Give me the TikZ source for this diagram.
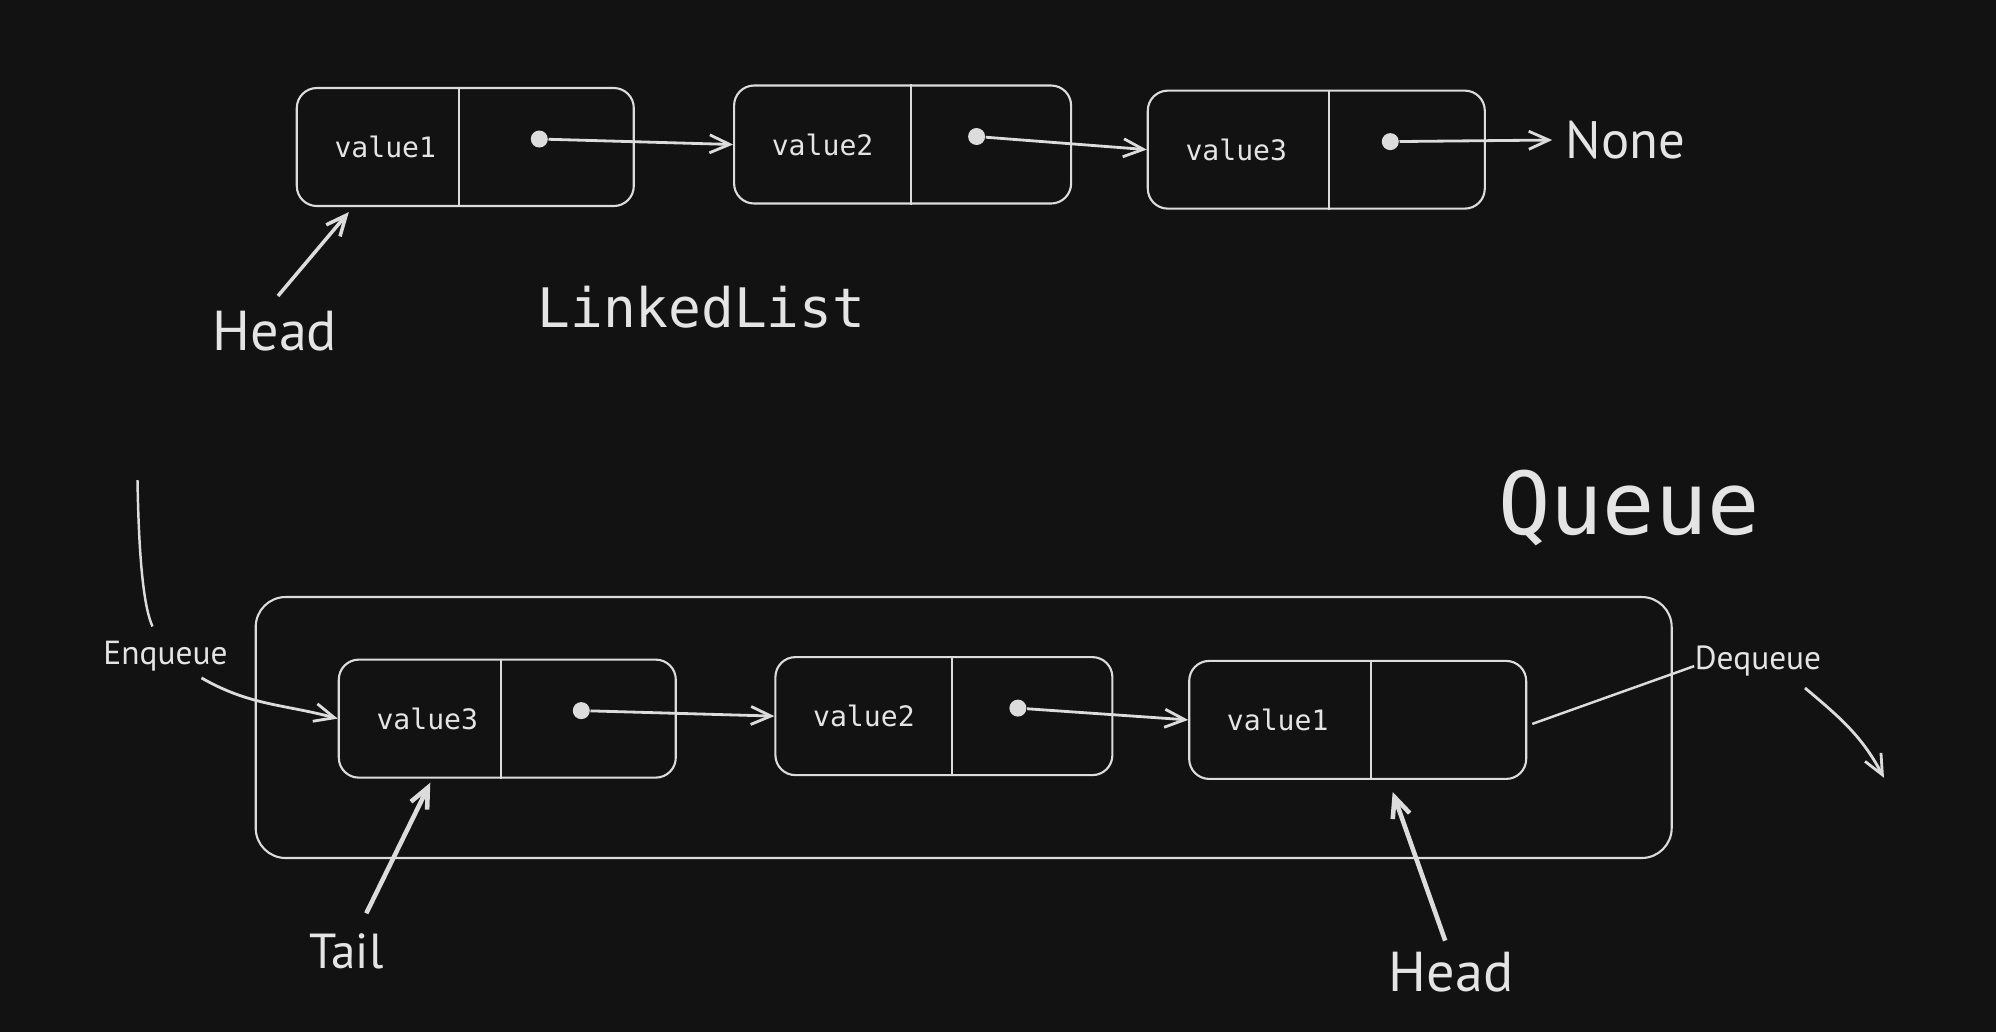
\documentclass[tikz,border=0pt]{standalone}
\usepackage{fontspec}
\setmainfont{PT Sans}
\setmonofont{DejaVu Sans Mono}
\usepackage{xcolor}
\usepackage{tikz}
\usetikzlibrary{arrows.meta, positioning, calc}
\definecolor{fond}{HTML}{121212}
\definecolor{craie}{HTML}{DCDCDC}
\definecolor{texte}{HTML}{E4E4E4}
\tikzset{
  cellule/.style={rectangle, rounded corners=2mm, draw=craie, line width=0.6pt,
    minimum width=33.7mm, minimum height=11.8mm, inner sep=0pt},
  cadre/.style={rectangle, rounded corners=3mm, draw=craie, line width=0.6pt,
    minimum width=141.6mm, minimum height=26.1mm, inner sep=0pt},
  separation/.style={draw=craie, line width=0.6pt},
  valeur/.style={font=\ttfamily\fontsize{8}{10}\selectfont, text=texte, inner sep=0pt},
  pointeur/.style={circle, fill=craie, inner sep=0pt, minimum size=1.7mm},
  fleche/.style={-{Straight Barb[length=2mm, width=1.8mm]}, line width=0.8pt, color=craie},
  flechegrasse/.style={fleche, line width=1.3pt},
  lien/.style={line width=0.7pt, color=craie},
  titre/.style={font=\ttfamily\fontsize{15.5}{18}\selectfont, text=texte, inner sep=0pt},
  etiquette/.style={font=\fontsize{16}{19}\selectfont, text=texte, inner sep=0pt},
  mention/.style={font=\fontsize{9.5}{11}\selectfont, text=texte, inner sep=0pt}
}

\begin{document}
\begin{tikzpicture}
    % Fond
    \fill[fond] (0,0) rectangle (19.96,-10.32);

    % Liste chainee
    \foreach \nom/\x/\y/\val/\sep in {n1/4.653/-1.470/value1/-0.06, n2/9.026/-1.445/value2/0.08, n3/13.163/-1.496/value3/0.13} {
      \node[cellule] (\nom) at (\x,\y) {};
      \draw[separation] ([xshift=\sep cm]\nom.north) -- ([xshift=\sep cm]\nom.south);
      \node[valeur] (\nom-v) at ([xshift=-8mm]\nom.center) {\val};
      \node[pointeur] (\nom-p) at ([xshift=7.4mm, yshift=0.8mm]\nom.center) {};
    }
    \node[etiquette, font=\fontsize{15}{18}\selectfont, anchor=base] (none) at (16.256,-1.583) {None};

    \draw[fleche] (n1-p) -- (n2.west);
    \draw[fleche] (n2-p) -- (n3.west);
    \draw[fleche, shorten >=1.3mm] (n3-p) -- (none.west);

    \node[etiquette, anchor=base] (teteA) at (2.750,-3.500) {Head};
    \draw[flechegrasse, line width=1pt] ([xshift=0.03cm, yshift=0.14cm]teteA.north) -- ([xshift=-1.165cm, yshift=-0.05cm]n1.south);
    \node[titre, anchor=base] (liste) at (7.014,-3.272) {LinkedList};

    % File
    \node[titre, font=\ttfamily\fontsize{24.7}{28}\selectfont, anchor=base] (file) at (16.29,-5.347) {Queue};
    \node[cadre] (boite) at (9.637,-7.275) {};

    \foreach \nom/\x/\y/\val/\sep in {q1/5.073/-7.186/value3/-0.06, q2/9.439/-7.161/value2/0.08, q3/13.577/-7.199/value1/0.13} {
      \node[cellule] (\nom) at (\x,\y) {};
      \draw[separation] ([xshift=\sep cm]\nom.north) -- ([xshift=\sep cm]\nom.south);
      \node[valeur] (\nom-v) at ([xshift=-8mm]\nom.center) {\val};
    }
    \foreach \nom in {q1, q2}
      \node[pointeur] (\nom-p) at ([xshift=7.4mm, yshift=0.8mm]\nom.center) {};

    \draw[fleche] (q1-p) -- (q2.west);
    \draw[fleche] (q2-p) -- (q3.west);

    % Entree et sortie
    \node[mention, anchor=base] (enfiler) at (1.655,-6.645) {Enqueue};
    \coordinate (enf-haut) at (1.375,-4.80);
    \draw[lien] (enf-haut) .. controls (1.39,-5.7) and (1.45,-6.1) .. ([xshift=-0.13cm, yshift=0.14cm]enfiler.north);
    \draw[fleche] ([xshift=0.36cm, yshift=-0.06cm]enfiler.south) to[out=-30, in=165] (q1.west);

    \node[mention, anchor=base] (defiler) at (17.58,-6.696) {Dequeue};
    \draw[lien] ([xshift=0.05cm, yshift=-0.04cm]q3.east) -- ([yshift=-0.05cm]defiler.west);
    \coordinate (sortie) at (18.84,-7.778);
    \draw[fleche] ([xshift=0.47cm, yshift=-0.11cm]defiler.south) to[out=-40, in=118] (sortie);

    \node[etiquette, font=\fontsize{14}{17}\selectfont, anchor=base] (queue) at (3.463,-9.688) {Tail};
    \draw[flechegrasse] ([xshift=0.2cm, yshift=0.2cm]queue.north) -- ([xshift=-0.77cm, yshift=-0.04cm]q1.south);

    \node[etiquette, anchor=base] (teteB) at (14.512,-9.917) {Head};
    \draw[flechegrasse] ([xshift=-0.06cm, yshift=0.11cm]teteB.north) -- ([xshift=0.35cm, yshift=-0.12cm]q3.south);
\end{tikzpicture}
\end{document}
